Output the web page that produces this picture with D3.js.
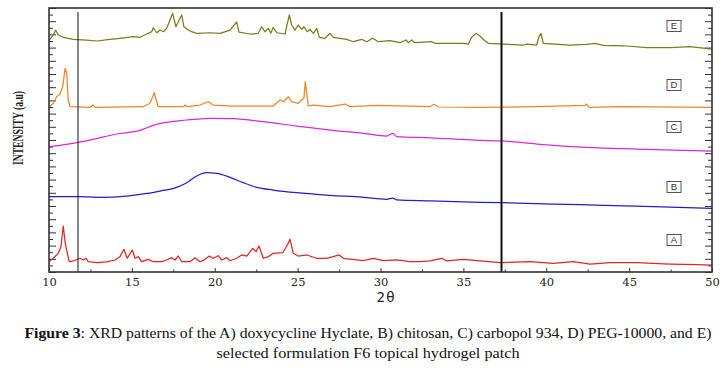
<!DOCTYPE html>
<html>
<head>
<meta charset="utf-8">
<script src="https://cdn.jsdelivr.net/npm/d3@7"></script>
<style>
body { margin: 0; background: #fff; }
</style>
</head>
<body>
<div id="canvas_xrd"></div>
<script>
// ----------------------------------------------------------
// DATA -----------------------------------------------------
// ----------------------------------------------------------
var series_names = ["A", "B", "C", "D", "E"];

// [2theta, intensity (a.u, stacked)]
var series_a = [
[10.00,156],[10.26,208],[10.56,283],[10.72,383],[10.86,697],[10.98,435],[11.13,258],[11.22,156],
[11.47,167],[11.87,208],[12.07,182],[12.23,208],[12.37,156],[12.88,141],[13.48,152],[13.98,182],
[14.28,232],[14.52,344],[14.72,208],[15.03,333],[15.19,208],[15.39,232],[15.59,156],[15.99,192],
[16.29,156],[16.80,156],[17.10,182],[17.40,217],[17.60,182],[17.80,242],[18.01,156],[18.51,156],
[18.81,217],[19.11,156],[19.41,192],[19.67,242],[19.91,208],[20.21,247],[20.42,182],[20.72,217],
[20.92,171],[21.32,208],[21.63,258],[21.93,242],[22.29,359],[22.49,308],[22.67,394],[22.93,208],
[23.23,232],[23.53,283],[24.10,292],[24.38,409],[24.54,495],[24.74,283],[25.04,242],[25.55,258],
[26.15,208],[26.75,208],[27.15,232],[27.51,258],[27.76,208],[28.56,182],[28.96,171],[29.57,208],
[30.17,171],[30.98,182],[31.78,156],[32.38,156],[32.99,167],[33.69,208],[33.99,167],[35.00,192],
[36.00,167],[37.21,141],[39.02,156],[40.43,132],[41.63,156],[42.64,121],[43.85,141],[45.46,141],
[47.47,121],[49.08,111],[50.00,106]
];

var series_b = [
[10.00,1141],[11.77,1141],[13.08,1132],[14.69,1151],[15.69,1182],[16.70,1227],[17.70,1283],
[18.31,1353],[18.91,1454],[19.51,1504],[20.12,1495],[20.92,1435],[21.72,1353],[22.53,1283],
[23.53,1242],[24.94,1201],[26.95,1162],[28.96,1132],[30.37,1101],[30.74,1121],[30.98,1091],
[32.99,1076],[36.00,1056],[37.31,1050],[40.43,1030],[43.44,1011],[46.46,989],[50.00,965]
];

var series_c = [
[10.00,1898],[11.77,1965],[12.67,2010],[14.08,2091],[15.49,2145],[16.29,2222],[18.31,2303],
[19.71,2329],[21.10,2323],[22.93,2277],[24.94,2212],[26.95,2151],[28.96,2101],[30.37,2060],
[30.74,2101],[30.98,2053],[32.99,2033],[36.00,1995],[37.31,1985],[39.42,1939],[42.44,1889],
[45.46,1863],[50.00,1833]
];

var series_d = [
[10.00,2495],[10.26,2556],[10.46,2656],[10.66,2692],[10.83,2807],[10.97,3086],[11.07,3010],
[11.16,2606],[11.27,2504],[12.47,2495],[12.64,2530],[12.78,2495],[15.69,2504],[16.09,2556],
[16.26,2656],[16.35,2716],[16.50,2580],[16.59,2504],[18.10,2504],[18.21,2530],[18.31,2504],
[19.11,2530],[19.61,2580],[19.91,2530],[21.12,2515],[23.53,2515],[23.94,2606],[24.14,2580],
[24.44,2656],[24.64,2580],[25.04,2556],[25.25,2606],[25.38,2632],[25.46,2883],[25.55,2707],
[25.64,2515],[25.95,2530],[26.95,2504],[27.86,2545],[28.16,2504],[29.77,2525],[32.99,2504],
[33.23,2541],[33.49,2500],[36.00,2495],[39.42,2504],[42.34,2525],[42.44,2545],[42.60,2495],
[44.45,2504],[50.00,2495]
];

var series_e = [
[10.00,3504],[10.26,3591],[10.40,3666],[10.56,3591],[10.86,3556],[11.47,3525],[12.27,3515],
[12.88,3500],[13.68,3525],[14.28,3541],[15.09,3565],[15.49,3556],[15.89,3606],[16.20,3641],
[16.29,3701],[16.50,3625],[16.70,3666],[16.90,3641],[17.10,3692],[17.30,3818],[17.46,3919],
[17.66,3716],[17.80,3792],[18.01,3894],[18.14,3716],[18.40,3666],[18.61,3641],[18.91,3616],
[19.71,3625],[20.32,3616],[20.92,3666],[21.32,3788],[21.46,3636],[22.13,3606],[22.63,3616],
[22.83,3716],[23.03,3641],[23.23,3692],[23.38,3616],[23.53,3707],[23.74,3625],[24.24,3606],
[24.38,3768],[24.50,3894],[24.64,3742],[24.84,3666],[25.04,3742],[25.25,3677],[25.38,3716],
[25.58,3641],[25.75,3677],[25.95,3616],[26.15,3692],[26.31,3556],[26.65,3541],[26.95,3616],
[27.15,3556],[27.96,3525],[28.36,3489],[28.87,3525],[29.17,3489],[29.53,3541],[29.87,3489],
[30.57,3504],[31.18,3474],[31.54,3515],[31.68,3474],[31.88,3515],[32.08,3474],[33.09,3489],
[33.29,3465],[35.00,3465],[35.30,3454],[35.50,3556],[35.76,3616],[36.00,3575],[36.24,3515],
[36.50,3465],[37.41,3454],[38.62,3439],[38.82,3454],[39.42,3439],[39.56,3565],[39.68,3616],
[39.82,3465],[41.43,3439],[42.44,3450],[42.94,3465],[43.44,3434],[44.65,3428],[46.06,3398],
[47.47,3398],[48.67,3413],[50.00,3378]
];

// marker lines (2theta)
var ref_lines = [11.75, 37.3];

// x tick labels
var x_ticks = [10, 15, 20, 25, 30, 35, 40, 45, 50];
var x_minor_ticks = [12.5, 17.5, 22.5, 27.5, 32.5, 37.5, 42.5, 47.5];

var text_x_axis = "2\u03b8";
var text_y_axis = "INTENSITY (a.u)";
var caption_bold = "Figure 3";
var caption_line_1 = ": XRD patterns of the A) doxycycline Hyclate, B) chitosan, C) carbopol 934, D) PEG-10000, and E)";
var caption_line_2 = "selected formulation F6 topical hydrogel patch";

// ----------------------------------------------------------
// LAYOUT ---------------------------------------------------
// ----------------------------------------------------------
var layout_xrd = {
width: 725,
height: 373,
left: 49,
right: 712,
top: 8,
bottom: 272,
label_box_x: 674,
// y value of the letter boxes
label_box_y: { A: 485, B: 1288, C: 2197, D: 2833, E: 3727 },
ref_line_top: 3940,
color_frame: "#333333",
color_text: "#222222"
};

var series_colors = { A: "#e2261e", B: "#1f1fcc", C: "#e024e0", D: "#f28522", E: "#7b7b1c" };
var series_smooth = { A: false, B: true, C: true, D: false, E: false };

var table_xrd = series_names.map(function(n, i) {
return { name: n, values: [series_a, series_b, series_c, series_d, series_e][i] };
});

// ----------------------------------------------------------
// STRUCTURE ------------------------------------------------
// ----------------------------------------------------------
var svg_xrd = d3.select("#canvas_xrd").append("svg")
.attr("width", layout_xrd.width)
.attr("height", layout_xrd.height)
.style("display", "block")
.style("background-color", "#ffffff");

var x_xrd = d3.scaleLinear().domain([10, 50]).range([layout_xrd.left, layout_xrd.right]);
var y_xrd = d3.scaleLinear().domain([0, 4000]).range([layout_xrd.bottom, layout_xrd.top]);

svg_xrd.append("clipPath").attr("id", "clip_xrd")
.append("rect")
.attr("x", layout_xrd.left).attr("y", layout_xrd.top)
.attr("width", layout_xrd.right - layout_xrd.left)
.attr("height", layout_xrd.bottom - layout_xrd.top);

// ----------------------------------------------------------
// AXES -----------------------------------------------------
// ----------------------------------------------------------
var y_major = d3.range(0, 4001, 200);
var y_minor = d3.range(100, 4000, 200);

function style_axis(g) {
g.select(".domain").remove();
g.selectAll(".tick line").attr("stroke", layout_xrd.color_frame).attr("stroke-width", 1);
}

// bottom
svg_xrd.append("g")
.attr("transform", "translate(0," + layout_xrd.bottom + ")")
.call(d3.axisBottom(x_xrd).tickValues(x_ticks).tickSize(-4).tickPadding(6).tickFormat(d3.format("d")))
.call(style_axis)
.call(function(g) {
g.selectAll("text")
.style("font-family", "'DejaVu Serif', serif")
.style("font-size", "11.5px")
.style("fill", layout_xrd.color_text);
});

svg_xrd.append("g")
.attr("transform", "translate(0," + layout_xrd.bottom + ")")
.call(d3.axisBottom(x_xrd).tickValues(x_minor_ticks).tickSize(-2.5).tickFormat(""))
.call(style_axis);

// left + right
[[d3.axisLeft, layout_xrd.left], [d3.axisRight, layout_xrd.right]].forEach(function(a) {
svg_xrd.append("g")
.attr("transform", "translate(" + a[1] + ",0)")
.call(a[0](y_xrd).tickValues(y_major).tickSize(-7).tickFormat(""))
.call(style_axis);
svg_xrd.append("g")
.attr("transform", "translate(" + a[1] + ",0)")
.call(a[0](y_xrd).tickValues(y_minor).tickSize(-4).tickFormat(""))
.call(style_axis);
});

// ----------------------------------------------------------
// GFX ------------------------------------------------------
// ----------------------------------------------------------
var gfx_xrd = svg_xrd.append("g").attr("clip-path", "url(#clip_xrd)");

gfx_xrd.selectAll(".xrd_line")
.data(table_xrd)
.enter()
.append("path")
.attr("class", "xrd_line")
.attr("fill", "none")
.attr("stroke", function(d) { return series_colors[d.name]; })
.attr("stroke-width", 1.25)
.attr("stroke-linejoin", "round")
.attr("d", function(d) {
return d3.line()
.x(function(p) { return x_xrd(p[0]); })
.y(function(p) { return y_xrd(p[1]); })
.curve(series_smooth[d.name] ? d3.curveMonotoneX : d3.curveLinear)(d.values);
});

// reference lines
svg_xrd.selectAll(".ref_line")
.data(ref_lines)
.enter()
.append("line")
.attr("class", "ref_line")
.attr("x1", function(d) { return x_xrd(d); })
.attr("x2", function(d) { return x_xrd(d); })
.attr("y1", y_xrd(layout_xrd.ref_line_top))
.attr("y2", y_xrd(0))
.attr("stroke", "#111")
.attr("stroke-width", function(d, i) { return i === 0 ? 1 : 2; });

// frame
svg_xrd.append("rect")
.attr("x", layout_xrd.left)
.attr("y", layout_xrd.top)
.attr("width", layout_xrd.right - layout_xrd.left)
.attr("height", layout_xrd.bottom - layout_xrd.top)
.attr("fill", "none")
.attr("stroke", layout_xrd.color_frame)
.attr("stroke-width", 1.6);

// letter boxes
var box_xrd = svg_xrd.selectAll(".label_box")
.data(series_names)
.enter()
.append("g")
.attr("class", "label_box")
.attr("transform", function(d) {
return "translate(" + layout_xrd.label_box_x + "," + y_xrd(layout_xrd.label_box_y[d]) + ")";
});

box_xrd.append("rect")
.attr("x", -7).attr("y", -5.5)
.attr("width", 14).attr("height", 11)
.attr("fill", "#fff")
.attr("stroke", "#444")
.attr("stroke-width", 0.9);

box_xrd.append("text")
.attr("text-anchor", "middle")
.attr("y", 3.4)
.style("font-family", "'Liberation Sans', sans-serif")
.style("font-size", "9.5px")
.style("fill", "#333")
.text(function(d) { return d; });

// ----------------------------------------------------------
// TEXT -----------------------------------------------------
// ----------------------------------------------------------
svg_xrd.append("text")
.attr("x", 386)
.attr("y", 302)
.attr("text-anchor", "middle")
.style("font-family", "'DejaVu Sans', sans-serif")
.style("font-size", "13.5px")
.style("letter-spacing", "1px")
.style("fill", layout_xrd.color_text)
.text(text_x_axis);

svg_xrd.append("text")
.attr("transform", "translate(23,128) rotate(-90)")
.attr("text-anchor", "middle")
.attr("textLength", 74)
.attr("lengthAdjust", "spacingAndGlyphs")
.style("font-family", "'Liberation Serif', serif")
.style("font-weight", "bold")
.style("font-size", "14px")
.style("fill", layout_xrd.color_text)
.text(text_y_axis);

// caption
var cap_1 = svg_xrd.append("text")
.attr("x", 368)
.attr("y", 338)
.attr("text-anchor", "middle")
.attr("textLength", 687)
.attr("lengthAdjust", "spacingAndGlyphs")
.style("font-family", "'Liberation Serif', serif")
.style("font-size", "14.5px")
.style("fill", "#111");
cap_1.append("tspan").style("font-weight", "bold").text(caption_bold);
cap_1.append("tspan").text(caption_line_1);

svg_xrd.append("text")
.attr("x", 368)
.attr("y", 358)
.attr("text-anchor", "middle")
.attr("textLength", 303)
.attr("lengthAdjust", "spacingAndGlyphs")
.style("font-family", "'Liberation Serif', serif")
.style("font-size", "14.5px")
.style("fill", "#111")
.text(caption_line_2);
</script>
</body>
</html>
